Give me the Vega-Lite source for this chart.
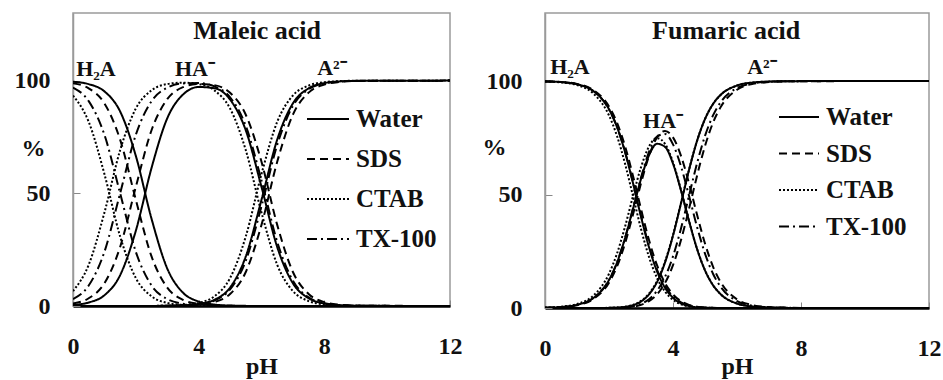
{
  "$schema": "https://vega.github.io/schema/vega-lite/v6.json",
  "padding": {"left": 13, "top": 12, "right": 5, "bottom": 0},
  "background": "white",
  "spacing": 18,
  "config": {
    "font": "Liberation Serif",
    "view": {"stroke": "#9a9a9a", "strokeWidth": 1.5},
    "axis": {
      "labelFont": "Liberation Serif", "labelFontWeight": "bold", "labelFontSize": 24, "labelColor": "#111",
      "titleFont": "Liberation Serif", "titleFontWeight": "bold", "titleFontSize": 24, "titleColor": "#111",
      "grid": false, "tickColor": "#888"
    }
  },
  "resolve": {"scale": {"strokeDash": "independent"}, "legend": {"strokeDash": "independent"}},
  "datasets": {
    "maleic": [
      {"solvent":"Water","pH":0,"H2A":99.5,"HA":0.5,"A":0},
      {"solvent":"Water","pH":0.5,"H2A":98.44,"HA":1.56,"A":0},
      {"solvent":"Water","pH":1,"H2A":95.23,"HA":4.77,"A":0},
      {"solvent":"Water","pH":1.5,"H2A":86.32,"HA":13.68,"A":0},
      {"solvent":"Water","pH":2,"H2A":66.61,"HA":33.39,"A":0},
      {"solvent":"Water","pH":2.5,"H2A":38.69,"HA":61.28,"A":0.03},
      {"solvent":"Water","pH":3,"H2A":16.63,"HA":83.28,"A":0.09},
      {"solvent":"Water","pH":3.5,"H2A":5.93,"HA":93.79,"A":0.28},
      {"solvent":"Water","pH":4,"H2A":1.96,"HA":97.16,"A":0.88},
      {"solvent":"Water","pH":4.5,"H2A":0.63,"HA":96.63,"A":2.74},
      {"solvent":"Water","pH":5,"H2A":0.2,"HA":91.62,"A":8.18},
      {"solvent":"Water","pH":5.5,"H2A":0.06,"HA":77.95,"A":21.99},
      {"solvent":"Water","pH":6,"H2A":0.02,"HA":52.85,"A":47.13},
      {"solvent":"Water","pH":6.5,"H2A":0,"HA":26.19,"A":73.81},
      {"solvent":"Water","pH":7,"H2A":0,"HA":10.09,"A":89.91},
      {"solvent":"Water","pH":7.5,"H2A":0,"HA":3.43,"A":96.57},
      {"solvent":"Water","pH":8,"H2A":0,"HA":1.11,"A":98.89},
      {"solvent":"Water","pH":8.5,"H2A":0,"HA":0.35,"A":99.65},
      {"solvent":"Water","pH":9,"H2A":0,"HA":0.11,"A":99.89},
      {"solvent":"Water","pH":12,"H2A":0,"HA":0,"A":100},
      {"solvent":"SDS","pH":0,"H2A":98.89,"HA":1.11,"A":0},
      {"solvent":"SDS","pH":0.5,"H2A":96.57,"HA":3.43,"A":0},
      {"solvent":"SDS","pH":1,"H2A":89.91,"HA":10.09,"A":0},
      {"solvent":"SDS","pH":1.5,"H2A":73.81,"HA":26.19,"A":0},
      {"solvent":"SDS","pH":2,"H2A":47.13,"HA":52.87,"A":0},
      {"solvent":"SDS","pH":2.5,"H2A":21.99,"HA":77.99,"A":0.02},
      {"solvent":"SDS","pH":3,"H2A":8.18,"HA":91.76,"A":0.06},
      {"solvent":"SDS","pH":3.5,"H2A":2.74,"HA":97.08,"A":0.18},
      {"solvent":"SDS","pH":4,"H2A":0.88,"HA":98.56,"A":0.56},
      {"solvent":"SDS","pH":4.5,"H2A":0.28,"HA":98.0,"A":1.72},
      {"solvent":"SDS","pH":5,"H2A":0.09,"HA":94.59,"A":5.32},
      {"solvent":"SDS","pH":5.5,"H2A":0.03,"HA":84.87,"A":15.1},
      {"solvent":"SDS","pH":6,"H2A":0.01,"HA":63.99,"A":36.0},
      {"solvent":"SDS","pH":6.5,"H2A":0,"HA":36.0,"A":64.0},
      {"solvent":"SDS","pH":7,"H2A":0,"HA":15.1,"A":84.9},
      {"solvent":"SDS","pH":7.5,"H2A":0,"HA":5.32,"A":94.68},
      {"solvent":"SDS","pH":8,"H2A":0,"HA":1.72,"A":98.28},
      {"solvent":"SDS","pH":8.5,"H2A":0,"HA":0.56,"A":99.44},
      {"solvent":"SDS","pH":9,"H2A":0,"HA":0.18,"A":99.82},
      {"solvent":"SDS","pH":12,"H2A":0,"HA":0,"A":100},
      {"solvent":"CTAB","pH":0,"H2A":93.39,"HA":6.61,"A":0},
      {"solvent":"CTAB","pH":0.5,"H2A":81.71,"HA":18.29,"A":0},
      {"solvent":"CTAB","pH":1,"H2A":58.56,"HA":41.44,"A":0},
      {"solvent":"CTAB","pH":1.5,"H2A":30.87,"HA":69.13,"A":0},
      {"solvent":"CTAB","pH":2,"H2A":12.38,"HA":87.62,"A":0},
      {"solvent":"CTAB","pH":2.5,"H2A":4.28,"HA":95.68,"A":0.04},
      {"solvent":"CTAB","pH":3,"H2A":1.37,"HA":98.49,"A":0.14},
      {"solvent":"CTAB","pH":3.5,"H2A":0.45,"HA":99.1,"A":0.45},
      {"solvent":"CTAB","pH":4,"H2A":0.14,"HA":98.49,"A":1.37},
      {"solvent":"CTAB","pH":4.5,"H2A":0.04,"HA":95.68,"A":4.28},
      {"solvent":"CTAB","pH":5,"H2A":0.01,"HA":87.61,"A":12.38},
      {"solvent":"CTAB","pH":5.5,"H2A":0,"HA":69.13,"A":30.87},
      {"solvent":"CTAB","pH":6,"H2A":0,"HA":41.44,"A":58.56},
      {"solvent":"CTAB","pH":6.5,"H2A":0,"HA":18.29,"A":81.71},
      {"solvent":"CTAB","pH":7,"H2A":0,"HA":6.61,"A":93.39},
      {"solvent":"CTAB","pH":7.5,"H2A":0,"HA":2.19,"A":97.81},
      {"solvent":"CTAB","pH":8,"H2A":0,"HA":0.7,"A":99.3},
      {"solvent":"CTAB","pH":8.5,"H2A":0,"HA":0.22,"A":99.78},
      {"solvent":"CTAB","pH":9,"H2A":0,"HA":0.07,"A":99.93},
      {"solvent":"CTAB","pH":12,"H2A":0,"HA":0,"A":100},
      {"solvent":"TX-100","pH":0,"H2A":96.93,"HA":3.07,"A":0},
      {"solvent":"TX-100","pH":0.5,"H2A":90.91,"HA":9.09,"A":0},
      {"solvent":"TX-100","pH":1,"H2A":75.97,"HA":24.03,"A":0},
      {"solvent":"TX-100","pH":1.5,"H2A":50,"HA":50,"A":0},
      {"solvent":"TX-100","pH":2,"H2A":24.03,"HA":75.97,"A":0},
      {"solvent":"TX-100","pH":2.5,"H2A":9.09,"HA":90.88,"A":0.03},
      {"solvent":"TX-100","pH":3,"H2A":3.07,"HA":96.85,"A":0.08},
      {"solvent":"TX-100","pH":3.5,"H2A":0.99,"HA":98.76,"A":0.25},
      {"solvent":"TX-100","pH":4,"H2A":0.32,"HA":98.89,"A":0.79},
      {"solvent":"TX-100","pH":4.5,"H2A":0.1,"HA":97.45,"A":2.45},
      {"solvent":"TX-100","pH":5,"H2A":0.03,"HA":92.61,"A":7.36},
      {"solvent":"TX-100","pH":5.5,"H2A":0.01,"HA":79.91,"A":20.08},
      {"solvent":"TX-100","pH":6,"H2A":0,"HA":55.73,"A":44.27},
      {"solvent":"TX-100","pH":6.5,"H2A":0,"HA":28.47,"A":71.53},
      {"solvent":"TX-100","pH":7,"H2A":0,"HA":11.18,"A":88.82},
      {"solvent":"TX-100","pH":7.5,"H2A":0,"HA":3.83,"A":96.17},
      {"solvent":"TX-100","pH":8,"H2A":0,"HA":1.23,"A":98.77},
      {"solvent":"TX-100","pH":8.5,"H2A":0,"HA":0.4,"A":99.6},
      {"solvent":"TX-100","pH":9,"H2A":0,"HA":0.13,"A":99.87},
      {"solvent":"TX-100","pH":12,"H2A":0,"HA":0,"A":100}
    ],
    "fumaric": [
      {"solvent":"Water","pH":0,"H2A":99.86,"HA":0.14,"A":0},
      {"solvent":"Water","pH":0.5,"H2A":99.55,"HA":0.45,"A":0},
      {"solvent":"Water","pH":1,"H2A":98.61,"HA":1.39,"A":0},
      {"solvent":"Water","pH":1.5,"H2A":95.72,"HA":4.28,"A":0.01},
      {"solvent":"Water","pH":2,"H2A":87.57,"HA":12.37,"A":0.06},
      {"solvent":"Water","pH":2.25,"H2A":79.78,"HA":20.04,"A":0.18},
      {"solvent":"Water","pH":2.5,"H2A":68.79,"HA":30.72,"A":0.49},
      {"solvent":"Water","pH":2.75,"H2A":55.05,"HA":43.72,"A":1.23},
      {"solvent":"Water","pH":3,"H2A":40.27,"HA":56.88,"A":2.85},
      {"solvent":"Water","pH":3.25,"H2A":26.77,"HA":67.25,"A":5.99},
      {"solvent":"Water","pH":3.5,"H2A":16.21,"HA":72.36,"A":11.43},
      {"solvent":"Water","pH":3.75,"H2A":8.95,"HA":71.02,"A":20.03},
      {"solvent":"Water","pH":4,"H2A":4.5,"HA":63.61,"A":31.87},
      {"solvent":"Water","pH":4.25,"H2A":2.06,"HA":51.79,"A":46.14},
      {"solvent":"Water","pH":4.5,"H2A":0.86,"HA":38.36,"A":60.8},
      {"solvent":"Water","pH":4.75,"H2A":0.33,"HA":26.1,"A":73.57},
      {"solvent":"Water","pH":5,"H2A":0.12,"HA":16.61,"A":83.27},
      {"solvent":"Water","pH":5.25,"H2A":0.04,"HA":10.08,"A":89.88},
      {"solvent":"Water","pH":5.5,"H2A":0.01,"HA":5.93,"A":94.06},
      {"solvent":"Water","pH":6,"H2A":0,"HA":1.96,"A":98.04},
      {"solvent":"Water","pH":6.5,"H2A":0,"HA":0.63,"A":99.37},
      {"solvent":"Water","pH":7,"H2A":0,"HA":0.2,"A":99.8},
      {"solvent":"Water","pH":7.5,"H2A":0,"HA":0.06,"A":99.94},
      {"solvent":"Water","pH":8,"H2A":0,"HA":0.02,"A":99.98},
      {"solvent":"Water","pH":12,"H2A":0,"HA":0,"A":100},
      {"solvent":"SDS","pH":0,"H2A":99.87,"HA":0.13,"A":0},
      {"solvent":"SDS","pH":0.5,"H2A":99.6,"HA":0.4,"A":0},
      {"solvent":"SDS","pH":1,"H2A":98.76,"HA":1.24,"A":0},
      {"solvent":"SDS","pH":1.5,"H2A":96.17,"HA":3.83,"A":0},
      {"solvent":"SDS","pH":2,"H2A":88.79,"HA":11.18,"A":0.03},
      {"solvent":"SDS","pH":2.25,"H2A":81.64,"HA":18.28,"A":0.08},
      {"solvent":"SDS","pH":2.5,"H2A":71.36,"HA":28.41,"A":0.22},
      {"solvent":"SDS","pH":2.75,"H2A":58.22,"HA":41.2,"A":0.58},
      {"solvent":"SDS","pH":3,"H2A":43.65,"HA":54.97,"A":1.38},
      {"solvent":"SDS","pH":3.25,"H2A":29.96,"HA":67.02,"A":3.0},
      {"solvent":"SDS","pH":3.5,"H2A":18.87,"HA":75.19,"A":5.97},
      {"solvent":"SDS","pH":3.75,"H2A":11.0,"HA":78.0,"A":11.0},
      {"solvent":"SDS","pH":4,"H2A":5.97,"HA":75.19,"A":18.87},
      {"solvent":"SDS","pH":4.25,"H2A":3.0,"HA":67.02,"A":29.96},
      {"solvent":"SDS","pH":4.5,"H2A":1.38,"HA":54.97,"A":43.65},
      {"solvent":"SDS","pH":4.75,"H2A":0.58,"HA":41.2,"A":58.22},
      {"solvent":"SDS","pH":5,"H2A":0.22,"HA":28.41,"A":71.36},
      {"solvent":"SDS","pH":5.25,"H2A":0.08,"HA":18.28,"A":81.64},
      {"solvent":"SDS","pH":5.5,"H2A":0.03,"HA":11.18,"A":88.79},
      {"solvent":"SDS","pH":6,"H2A":0,"HA":3.83,"A":96.17},
      {"solvent":"SDS","pH":6.5,"H2A":0,"HA":1.24,"A":98.76},
      {"solvent":"SDS","pH":7,"H2A":0,"HA":0.4,"A":99.6},
      {"solvent":"SDS","pH":7.5,"H2A":0,"HA":0.13,"A":99.87},
      {"solvent":"SDS","pH":8,"H2A":0,"HA":0.04,"A":99.96},
      {"solvent":"SDS","pH":12,"H2A":0,"HA":0,"A":100},
      {"solvent":"CTAB","pH":0,"H2A":99.82,"HA":0.18,"A":0},
      {"solvent":"CTAB","pH":0.5,"H2A":99.44,"HA":0.56,"A":0},
      {"solvent":"CTAB","pH":1,"H2A":98.25,"HA":1.75,"A":0},
      {"solvent":"CTAB","pH":1.5,"H2A":94.67,"HA":5.32,"A":0.01},
      {"solvent":"CTAB","pH":2,"H2A":84.84,"HA":15.09,"A":0.08},
      {"solvent":"CTAB","pH":2.25,"H2A":75.81,"HA":23.98,"A":0.21},
      {"solvent":"CTAB","pH":2.5,"H2A":63.64,"HA":35.79,"A":0.57},
      {"solvent":"CTAB","pH":2.75,"H2A":49.31,"HA":49.31,"A":1.39},
      {"solvent":"CTAB","pH":3,"H2A":34.86,"HA":62.03,"A":3.11},
      {"solvent":"CTAB","pH":3.25,"H2A":22.49,"HA":71.17,"A":6.34},
      {"solvent":"CTAB","pH":3.5,"H2A":13.32,"HA":74.85,"A":11.83},
      {"solvent":"CTAB","pH":3.75,"H2A":7.24,"HA":72.36,"A":20.41},
      {"solvent":"CTAB","pH":4,"H2A":3.61,"HA":64.23,"A":32.18},
      {"solvent":"CTAB","pH":4.25,"H2A":1.64,"HA":52.0,"A":46.33},
      {"solvent":"CTAB","pH":4.5,"H2A":0.68,"HA":38.42,"A":60.89},
      {"solvent":"CTAB","pH":4.75,"H2A":0.26,"HA":26.12,"A":73.62},
      {"solvent":"CTAB","pH":5,"H2A":0.09,"HA":16.62,"A":83.29},
      {"solvent":"CTAB","pH":5.25,"H2A":0.03,"HA":10.08,"A":89.89},
      {"solvent":"CTAB","pH":5.5,"H2A":0.01,"HA":5.93,"A":94.06},
      {"solvent":"CTAB","pH":6,"H2A":0,"HA":1.96,"A":98.04},
      {"solvent":"CTAB","pH":6.5,"H2A":0,"HA":0.63,"A":99.37},
      {"solvent":"CTAB","pH":7,"H2A":0,"HA":0.2,"A":99.8},
      {"solvent":"CTAB","pH":7.5,"H2A":0,"HA":0.06,"A":99.94},
      {"solvent":"CTAB","pH":8,"H2A":0,"HA":0.02,"A":99.98},
      {"solvent":"CTAB","pH":12,"H2A":0,"HA":0,"A":100},
      {"solvent":"TX-100","pH":0,"H2A":99.86,"HA":0.14,"A":0},
      {"solvent":"TX-100","pH":0.5,"H2A":99.55,"HA":0.45,"A":0},
      {"solvent":"TX-100","pH":1,"H2A":98.61,"HA":1.39,"A":0},
      {"solvent":"TX-100","pH":1.5,"H2A":95.72,"HA":4.28,"A":0},
      {"solvent":"TX-100","pH":2,"H2A":87.59,"HA":12.37,"A":0.04},
      {"solvent":"TX-100","pH":2.25,"H2A":79.83,"HA":20.05,"A":0.11},
      {"solvent":"TX-100","pH":2.5,"H2A":68.91,"HA":30.78,"A":0.31},
      {"solvent":"TX-100","pH":2.75,"H2A":55.29,"HA":43.92,"A":0.78},
      {"solvent":"TX-100","pH":3,"H2A":40.69,"HA":57.47,"A":1.82},
      {"solvent":"TX-100","pH":3.25,"H2A":27.37,"HA":68.78,"A":3.87},
      {"solvent":"TX-100","pH":3.5,"H2A":16.92,"HA":75.53,"A":7.55},
      {"solvent":"TX-100","pH":3.75,"H2A":9.66,"HA":76.69,"A":13.65},
      {"solvent":"TX-100","pH":4,"H2A":5.1,"HA":72.1,"A":22.78},
      {"solvent":"TX-100","pH":4.25,"H2A":2.48,"HA":62.42,"A":35.08},
      {"solvent":"TX-100","pH":4.5,"H2A":1.08,"HA":49.46,"A":49.46},
      {"solvent":"TX-100","pH":4.75,"H2A":0.45,"HA":35.83,"A":63.72},
      {"solvent":"TX-100","pH":5,"H2A":0.17,"HA":23.99,"A":75.84},
      {"solvent":"TX-100","pH":5.25,"H2A":0.06,"HA":15.09,"A":84.85},
      {"solvent":"TX-100","pH":5.5,"H2A":0.02,"HA":9.09,"A":90.89},
      {"solvent":"TX-100","pH":6,"H2A":0,"HA":3.07,"A":96.93},
      {"solvent":"TX-100","pH":6.5,"H2A":0,"HA":0.99,"A":99.01},
      {"solvent":"TX-100","pH":7,"H2A":0,"HA":0.32,"A":99.68},
      {"solvent":"TX-100","pH":7.5,"H2A":0,"HA":0.1,"A":99.9},
      {"solvent":"TX-100","pH":8,"H2A":0,"HA":0.03,"A":99.97},
      {"solvent":"TX-100","pH":12,"H2A":0,"HA":0,"A":100}
    ],
    "maleicLabels": [
      {"pH":0.73,"pct":102,"label":"H₂A"},
      {"pH":3.88,"pct":102,"label":"HA⁻"},
      {"pH":8.24,"pct":102.5,"label":"A²⁻"}
    ],
    "maleicTitle": [{"pH":5.86,"pct":118.5,"label":"Maleic acid"}],
    "fumaricLabels": [
      {"pH":0.78,"pct":103,"label":"H₂A"},
      {"pH":3.69,"pct":79.3,"label":"HA⁻"},
      {"pH":6.78,"pct":103,"label":"A²⁻"}
    ],
    "fumaricTitle": [{"pH":5.66,"pct":118.5,"label":"Fumaric acid"}]
  },
  "hconcat": [
    {
      "width": 377, "height": 293,
      "layer": [
        {
          "data": {"name": "maleic"},
          "transform": [{"fold": ["H2A", "HA", "A"], "as": ["species", "pct"]}],
          "mark": {"type": "line", "interpolate": "monotone", "strokeWidth": 2, "color": "black", "clip": true},
          "encoding": {
            "x": {"field": "pH", "type": "quantitative", "scale": {"domain": [0, 12]},
                  "axis": {"values": [0, 4, 8, 12], "format": "d", "labelFlush": false, "labelPadding": 34, "tickSize": -6,
                           "title": "pH", "titleY": 48, "titleBaseline": "top", "domainColor": "#000", "domainWidth": 2.5}},
            "y": {"field": "pct", "type": "quantitative", "scale": {"domain": [0, 130]},
                  "axis": {"values": [0, 50, 100], "labelPadding": 30, "tickSize": -7, "title": "%", "titleAngle": 0,
                           "titleX": -40, "titleY": 135, "titleAlign": "center", "titleBaseline": "middle",
                           "domainColor": "#9a9a9a", "domainWidth": 1.5}},
            "detail": {"field": "species"},
            "strokeDash": {"field": "solvent", "type": "nominal",
                           "scale": {"domain": ["Water", "SDS", "CTAB", "TX-100"], "range": [[1, 0], [8, 5], [2, 2], [10, 4, 2, 4]]},
                           "legend": {"title": null, "orient": "none", "legendX": 233, "legendY": 84, "symbolType": "stroke",
                                      "symbolSize": 1764, "symbolStrokeWidth": 2, "symbolStrokeColor": "black",
                                      "labelFont": "Liberation Serif", "labelFontWeight": "bold", "labelFontSize": 25,
                                      "labelColor": "#111", "rowPadding": 5, "labelOffset": 6}}
          }
        },
        {
          "data": {"name": "maleicLabels"},
          "mark": {"type": "text", "font": "Liberation Serif", "fontWeight": "bold", "fontSize": 22, "baseline": "alphabetic", "color": "#111"},
          "encoding": {"x": {"field": "pH", "type": "quantitative"}, "y": {"field": "pct", "type": "quantitative"}, "text": {"field": "label"}}
        },
        {
          "data": {"name": "maleicTitle"},
          "mark": {"type": "text", "font": "Liberation Serif", "fontWeight": "bold", "fontSize": 26, "baseline": "alphabetic", "color": "#111"},
          "encoding": {"x": {"field": "pH", "type": "quantitative"}, "y": {"field": "pct", "type": "quantitative"}, "text": {"field": "label"}}
        }
      ]
    },
    {
      "width": 384, "height": 295,
      "layer": [
        {
          "data": {"name": "fumaric"},
          "transform": [{"fold": ["H2A", "HA", "A"], "as": ["species", "pct"]}],
          "mark": {"type": "line", "interpolate": "monotone", "strokeWidth": 2, "color": "black", "clip": true},
          "encoding": {
            "x": {"field": "pH", "type": "quantitative", "scale": {"domain": [0, 12]},
                  "axis": {"values": [0, 4, 8, 12], "format": "d", "labelFlush": false, "labelPadding": 34, "tickSize": -6,
                           "title": "pH", "titleY": 46, "titleBaseline": "top", "domainColor": "#000", "domainWidth": 2.5}},
            "y": {"field": "pct", "type": "quantitative", "scale": {"domain": [0, 130]},
                  "axis": {"values": [0, 50, 100], "labelPadding": 30, "tickSize": -7, "title": "%", "titleAngle": 0,
                           "titleX": -51, "titleY": 134, "titleAlign": "center", "titleBaseline": "middle",
                           "domainColor": "#9a9a9a", "domainWidth": 1.5}},
            "detail": {"field": "species"},
            "strokeDash": {"field": "solvent", "type": "nominal",
                           "scale": {"domain": ["Water", "SDS", "CTAB", "TX-100"], "range": [[1, 0], [8, 5], [2, 2], [10, 4, 2, 4]]},
                           "legend": {"title": null, "orient": "none", "legendX": 233, "legendY": 83, "symbolType": "stroke",
                                      "symbolSize": 1600, "symbolStrokeWidth": 2, "symbolStrokeColor": "black",
                                      "labelFont": "Liberation Serif", "labelFontWeight": "bold", "labelFontSize": 25,
                                      "labelColor": "#111", "rowPadding": 2.5, "labelOffset": 6}}
          }
        },
        {
          "data": {"name": "fumaricLabels"},
          "mark": {"type": "text", "font": "Liberation Serif", "fontWeight": "bold", "fontSize": 22, "baseline": "alphabetic", "color": "#111"},
          "encoding": {"x": {"field": "pH", "type": "quantitative"}, "y": {"field": "pct", "type": "quantitative"}, "text": {"field": "label"}}
        },
        {
          "data": {"name": "fumaricTitle"},
          "mark": {"type": "text", "font": "Liberation Serif", "fontWeight": "bold", "fontSize": 26, "baseline": "alphabetic", "color": "#111"},
          "encoding": {"x": {"field": "pH", "type": "quantitative"}, "y": {"field": "pct", "type": "quantitative"}, "text": {"field": "label"}}
        }
      ]
    }
  ]
}
